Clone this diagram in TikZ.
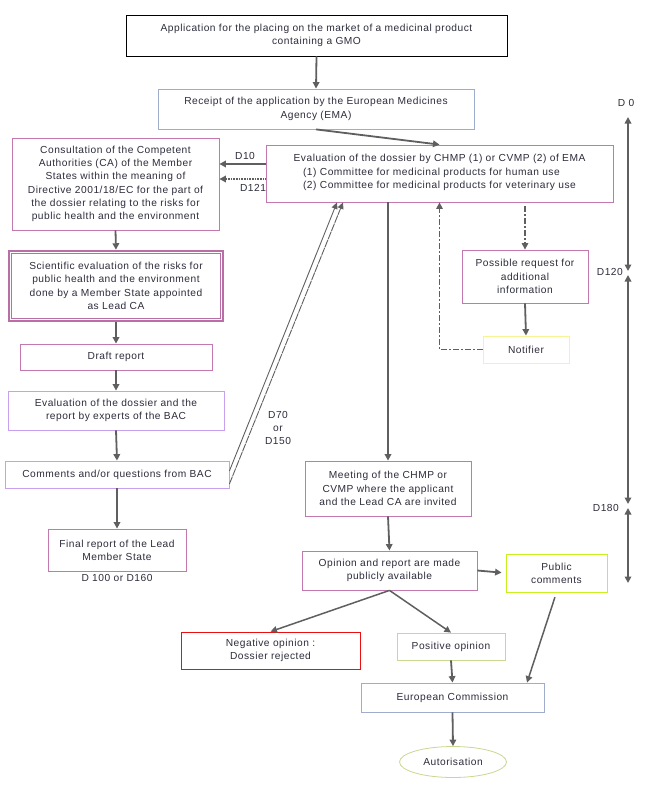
\documentclass[tikz,border=0pt]{standalone}
\usepackage{fontspec}
\setmainfont[LetterSpace=5]{Liberation Sans}
\usetikzlibrary{arrows.meta,calc,shapes.geometric}
\definecolor{arr}{RGB}{95,95,95}
\definecolor{txt}{RGB}{45,45,60}
\definecolor{pinkb}{RGB}{196,120,176}
\definecolor{pinkd}{RGB}{186,110,166}
\definecolor{lilac}{RGB}{200,160,240}
\definecolor{bluegray}{RGB}{160,172,204}
\definecolor{yell}{RGB}{248,244,150}
\definecolor{ygreen}{RGB}{200,240,30}
\definecolor{olive}{RGB}{200,216,144}
\definecolor{redb}{RGB}{232,16,16}
\begin{document}
\begin{tikzpicture}[x=1pt,y=-1pt,
  font=\fontsize{10.2}{13.3}\selectfont,
  box/.style={draw=pinkb, line width=0.8pt, align=center, inner sep=0pt, text=txt, fill=white},
  lbl/.style={text=txt, align=center, inner sep=0pt},
  conn/.style={draw=arr, line width=1.8pt, -{Triangle[length=6.5pt,width=6.5pt]}},
  thinconn/.style={draw=arr, line width=0.9pt, -{Triangle[length=6.5pt,width=6pt]}},
  dotconn/.style={conn, dash pattern=on 1pt off 0.6pt},
  ddconn/.style={conn, line width=1.3pt, dash pattern=on 6pt off 2pt on 2pt off 2pt},
  tline/.style={draw=arr, line width=1.8pt, {Triangle[length=6.5pt,width=6.5pt]}-{Triangle[length=6.5pt,width=6.5pt]}}
]
\useasboundingbox (0,0) rectangle (655,795);

% nodes
\node[box, draw=black, minimum width=381pt, minimum height=41pt] (app) at (316.5,35.5)
  {Application for the placing on the market of a medicinal product\\containing a GMO};
\node[box, draw=bluegray, minimum width=316pt, minimum height=40pt] (rec) at (316,109)
  {Receipt of the application by the European Medicines\\Agency (EMA)};
\node[box, minimum width=347pt, minimum height=57pt] (eval) at (439.5,173.5)
  {Evaluation of the dossier by CHMP (1) or CVMP (2) of EMA\\
   \begin{tabular}[t]{@{}l@{}}(1) Committee for medicinal products for human use\\(2) Committee for medicinal products for veterinary use\end{tabular}};
\node[box, minimum width=207pt, minimum height=92pt] (cons) at (115.5,184)
  {Consultation of the Competent\\Authorities (CA) of the Member\\States within the meaning of\\Directive 2001/18/EC for the part of\\the dossier relating to the risks for\\public health and the environment};
\node[box, draw=pinkd, line width=2.5pt, minimum width=214pt, minimum height=70pt] (sci) at (116,286)
  {Scientific evaluation of the risks for\\public health and the environment\\done by a Member State appointed\\as Lead CA};
\draw[pinkd, line width=0.8pt] ([shift={(3.5pt,3.5pt)}]sci.south west) rectangle ([shift={(-3.5pt,-3.5pt)}]sci.north east);
\node[box, minimum width=192pt, minimum height=26pt] (draft) at (116,357) {Draft report};
\node[box, draw=lilac, minimum width=216pt, minimum height=39pt] (evbac) at (116,410.5)
  {Evaluation of the dossier and the\\report by experts of the BAC};
\node[box, draw=lilac, minimum width=224pt, minimum height=27pt] (com) at (117,474.5)
  {Comments and/or questions from BAC};
\node[box, minimum width=138pt, minimum height=42pt] (final) at (117,550)
  {Final report of the Lead\\Member State};
\node[lbl] (d100) at (117,578) {D 100 or D160};
\node[box, minimum width=126pt, minimum height=53pt] (req) at (525,276.5)
  {Possible request for\\additional\\information};
\node[box, draw=yell, minimum width=86pt, minimum height=27pt] (notif) at (526,349.5) {Notifier};
\node[box, minimum width=166pt, minimum height=55pt] (meet) at (388,488.5)
  {Meeting of the CHMP or\\CVMP where the applicant\\and the Lead CA are invited};
\node[box, minimum width=175pt, minimum height=39pt] (opin) at (389.5,570.5)
  {Opinion and report are made\\publicly available};
\node[box, draw=ygreen, minimum width=101pt, minimum height=38pt] (pub) at (556.5,573)
  {Public\\comments};
\node[box, draw=redb, minimum width=179pt, minimum height=37pt] (neg) at (270.5,650.5)
  {Negative opinion :\\Dossier rejected};
\node[box, draw=olive, minimum width=108pt, minimum height=27pt] (pos) at (451,646.5) {Positive opinion};
\node[box, draw=bluegray, minimum width=183pt, minimum height=29pt] (ec) at (452.5,697.5) {European Commission};
\node[box, draw=olive, ellipse, minimum width=107pt, minimum height=31pt] (aut) at (453,762) {Autorisation};

% labels
\node[lbl] (ld10) at (245,156) {D10};
\node[lbl] (ld121) at (253,188) {D121};
\node[lbl] (ld70) at (278,428) {D70\\or\\D150};
\node[lbl] (ld0) at (626,103) {D 0};
\node[lbl, anchor=east] (ld120) at (623,272) {D120};
\node[lbl, anchor=east] (ld180) at (619,508) {D180};

% connectors
\draw[conn] (app.south) -- (rec.north);
\draw[conn] (rec.south) -- (eval.north);
\coordinate (d10s) at ([yshift=9.5pt]eval.west);
\draw[conn] (d10s) -- (d10s -| cons.east);
\coordinate (d121s) at ([yshift=-5.5pt]eval.west);
\draw[dotconn] (d121s) -- (d121s -| cons.east);
\draw[conn] (cons.south) -- (sci.north);
\draw[conn] (sci.south) -- (draft.north);
\draw[conn] (draft.south) -- (evbac.north);
\draw[conn] (evbac.south) -- (com.north);
\draw[conn] (com.south) -- (final.north);
\draw[thinconn] ([yshift=3.5pt]com.east) -- ([xshift=-102.5pt]eval.south);
\draw[thinconn, dash pattern=on 8pt off 0.8pt] ([yshift=-9.5pt]com.east) -- ([xshift=-96.5pt]eval.south);
\draw[conn] (meet.north |- eval.south) -- (meet.north);
\draw[ddconn] (notif.west) -| (eval.south);
\draw[ddconn, shorten <=4pt] (req.north |- eval.south) -- (req.north);
\draw[conn] (req.south) -- (notif.north);
\draw[conn] (meet.south) -- (opin.north);
\draw[conn, shorten >=4pt] (opin.east) -- (pub.west);
\draw[conn, line width=1.5pt] (opin.south) -- (neg.north);
\draw[conn, line width=1.5pt] (opin.south) -- (pos.north);
\draw[conn, line width=1.5pt, shorten <=5pt] (pub.south) -- ([xshift=74.5pt]ec.north);
\draw[conn] (pos.south) -- (ec.north);
\draw[conn] (ec.south) -- (aut.north);

% timeline
\coordinate (t0) at (628,117);
\coordinate (t1) at (628,271);
\coordinate (t2) at (628,275);
\coordinate (t3) at (628,504);
\coordinate (t4) at (628,508);
\coordinate (t5) at (628,583);
\draw[tline] (t0) -- (t1);
\draw[tline] (t2) -- (t3);
\draw[tline] (t4) -- (t5);
\end{tikzpicture}
\end{document}
